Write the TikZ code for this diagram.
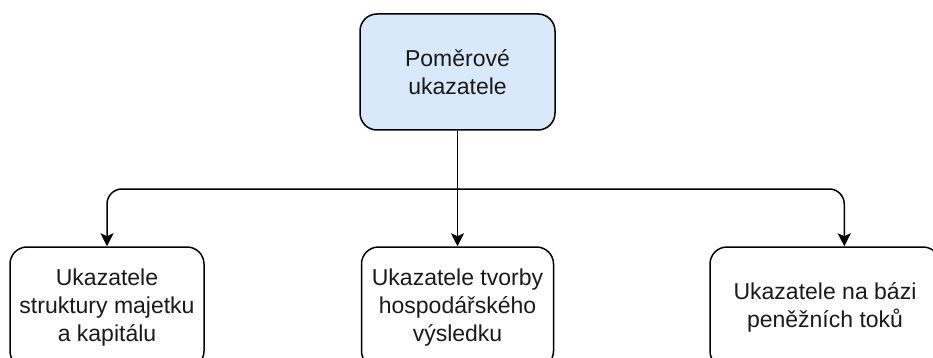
\documentclass[tikz,border=0pt]{standalone}
\usepackage{fontspec}
\setmainfont{Liberation Sans}
\usetikzlibrary{arrows.meta}
\definecolor{topfill}{HTML}{DAE8FC}
\definecolor{txt}{HTML}{1A1A1A}
\tikzset{
  box/.style={draw=black, line width=1.5pt, rounded corners=17pt, align=center,
    text=txt, font=\fontsize{23}{28}\selectfont, inner sep=0pt},
  conn/.style={draw=black, line width=1.5pt, rounded corners=15pt,
    -{Stealth[length=13pt,width=13pt,inset=3pt]}}
}
\begin{document}
\begin{tikzpicture}[x=1pt,y=1pt]
\useasboundingbox (0,0) rectangle (933,-358);
\fill[white] (0,0) rectangle (933,-358);
\clip (0,0) rectangle (933,-358);
\node[box, fill=topfill, minimum width=195pt, minimum height=116pt] (top) at (457.5,-72) {Poměrové\\ukazatele};
\node[box, fill=white, minimum width=194pt, minimum height=121pt] (left) at (107,-307.5) {Ukazatele\\struktury majetku\\a kapitálu};
\node[box, fill=white, minimum width=192pt, minimum height=121pt] (mid) at (457.5,-307.5) {Ukazatele tvorby\\hospodářského\\výsledku};
\node[box, fill=white, minimum width=230pt, minimum height=121pt] (right) at (825,-307.5) {Ukazatele na bázi\\peněžních toků};
\coordinate (j) at (457.5,-189);
\draw[conn] (top.south) -- (mid.north);
\draw[conn] (j) -| (left.north);
\draw[conn] (j) -| ([xshift=135pt]right.north west);
\end{tikzpicture}
\end{document}
